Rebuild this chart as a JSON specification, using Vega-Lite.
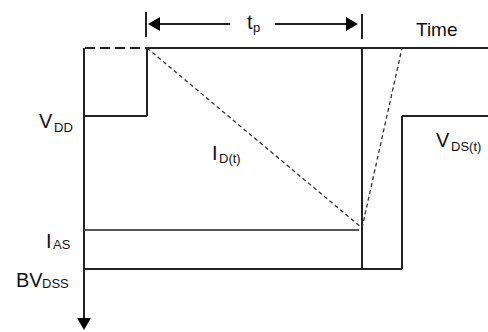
{
  "$schema": "https://vega.github.io/schema/vega-lite/v6.json",
  "width": 488,
  "height": 332,
  "padding": 0,
  "autosize": {"type": "none"},
  "background": "white",
  "config": {"view": {"stroke": null}},
  "datasets": {
    "solid": [
      {"x": 84, "y": 48, "x2": 84, "y2": 320},
      {"x": 147, "y": 48, "x2": 488, "y2": 48},
      {"x": 147, "y": 48, "x2": 147, "y2": 116},
      {"x": 84, "y": 116, "x2": 147, "y2": 116},
      {"x": 362, "y": 48, "x2": 362, "y2": 269},
      {"x": 84, "y": 269, "x2": 402, "y2": 269},
      {"x": 402, "y": 269, "x2": 402, "y2": 116},
      {"x": 402, "y": 116, "x2": 488, "y2": 116},
      {"x": 150, "y": 24, "x2": 230, "y2": 24},
      {"x": 275, "y": 24, "x2": 356, "y2": 24},
      {"x": 146, "y": 12, "x2": 146, "y2": 37},
      {"x": 362, "y": 14, "x2": 362, "y2": 39}
    ],
    "thin": [
      {"x": 84, "y": 230, "x2": 359, "y2": 230}
    ],
    "longdash": [
      {"x": 85, "y": 48, "x2": 147, "y2": 48}
    ],
    "dashed": [
      {"x": 147, "y": 48, "x2": 362, "y2": 228},
      {"x": 362, "y": 228, "x2": 402, "y2": 48}
    ],
    "heads": [
      {"x": 154, "y": 24, "dir": "triangle-left"},
      {"x": 352, "y": 24, "dir": "triangle-right"},
      {"x": 84, "y": 324, "dir": "triangle-down"}
    ],
    "labels": [
      {"x": 247, "y": 29, "t": "t"},
      {"x": 39, "y": 128, "t": "V"},
      {"x": 212, "y": 160, "t": "I"},
      {"x": 436, "y": 147, "t": "V"},
      {"x": 46, "y": 248, "t": "I"},
      {"x": 16, "y": 287, "t": "BV"}
    ],
    "subs": [
      {"x": 253, "y": 32, "t": "p"},
      {"x": 54, "y": 132, "t": "DD"},
      {"x": 219, "y": 163, "t": "D(t)"},
      {"x": 451, "y": 151, "t": "DS(t)"},
      {"x": 53, "y": 249, "t": "AS"},
      {"x": 42, "y": 288, "t": "DSS"}
    ],
    "title": [
      {"x": 416, "y": 36, "t": "Time"}
    ]
  },
  "layer": [
    {
      "data": {"name": "solid"},
      "mark": {"type": "rule", "color": "#222", "strokeWidth": 2},
      "encoding": {
        "x": {"field": "x", "type": "quantitative", "scale": {"domain": [0, 488], "range": [0, 488], "nice": false, "zero": false}, "axis": null},
        "y": {"field": "y", "type": "quantitative", "scale": {"domain": [0, 332], "range": [0, 332], "nice": false, "zero": false}, "axis": null},
        "x2": {"field": "x2"},
        "y2": {"field": "y2"}
      }
    },
    {
      "data": {"name": "thin"},
      "mark": {"type": "rule", "color": "#555", "strokeWidth": 2},
      "encoding": {
        "x": {"field": "x", "type": "quantitative", "axis": null},
        "y": {"field": "y", "type": "quantitative", "axis": null},
        "x2": {"field": "x2"},
        "y2": {"field": "y2"}
      }
    },
    {
      "data": {"name": "longdash"},
      "mark": {"type": "rule", "color": "#222", "strokeWidth": 2, "strokeDash": [10, 5]},
      "encoding": {
        "x": {"field": "x", "type": "quantitative", "axis": null},
        "y": {"field": "y", "type": "quantitative", "axis": null},
        "x2": {"field": "x2"},
        "y2": {"field": "y2"}
      }
    },
    {
      "data": {"name": "dashed"},
      "mark": {"type": "rule", "color": "#333", "strokeWidth": 1.3, "strokeDash": [4, 3]},
      "encoding": {
        "x": {"field": "x", "type": "quantitative", "axis": null},
        "y": {"field": "y", "type": "quantitative", "axis": null},
        "x2": {"field": "x2"},
        "y2": {"field": "y2"}
      }
    },
    {
      "data": {"name": "heads"},
      "mark": {"type": "point", "filled": true, "color": "#000", "opacity": 1, "size": 190},
      "encoding": {
        "x": {"field": "x", "type": "quantitative", "axis": null},
        "y": {"field": "y", "type": "quantitative", "axis": null},
        "shape": {"field": "dir", "type": "nominal", "scale": null, "legend": null}
      }
    },
    {
      "data": {"name": "labels"},
      "mark": {"type": "text", "font": "Liberation Sans", "fontSize": 20, "align": "left", "baseline": "alphabetic", "color": "#111"},
      "encoding": {
        "x": {"field": "x", "type": "quantitative", "axis": null},
        "y": {"field": "y", "type": "quantitative", "axis": null},
        "text": {"field": "t"}
      }
    },
    {
      "data": {"name": "subs"},
      "mark": {"type": "text", "font": "Liberation Sans", "fontSize": 13, "align": "left", "baseline": "alphabetic", "color": "#111"},
      "encoding": {
        "x": {"field": "x", "type": "quantitative", "axis": null},
        "y": {"field": "y", "type": "quantitative", "axis": null},
        "text": {"field": "t"}
      }
    },
    {
      "data": {"name": "title"},
      "mark": {"type": "text", "font": "Liberation Sans", "fontSize": 19, "align": "left", "baseline": "alphabetic", "color": "#111"},
      "encoding": {
        "x": {"field": "x", "type": "quantitative", "axis": null},
        "y": {"field": "y", "type": "quantitative", "axis": null},
        "text": {"field": "t"}
      }
    }
  ]
}
